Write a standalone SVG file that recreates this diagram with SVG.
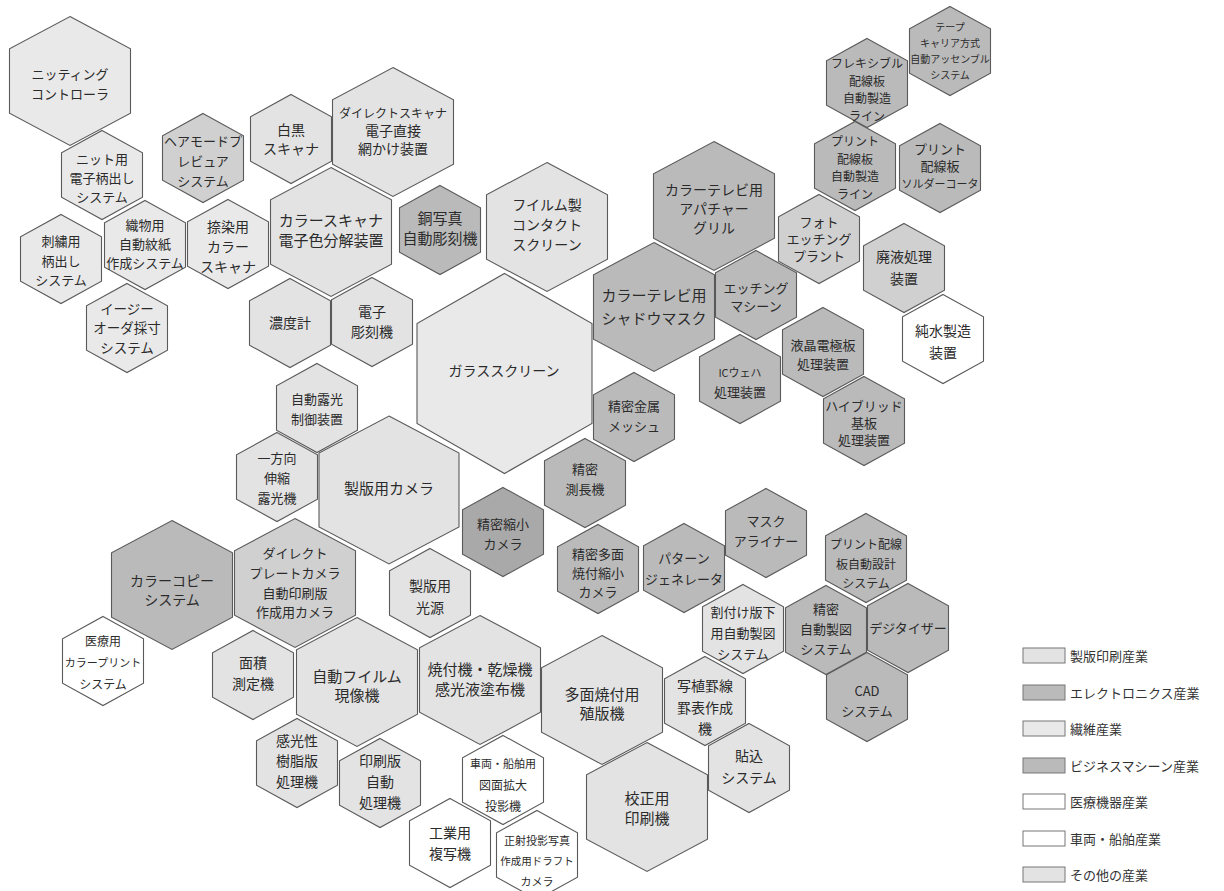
<svg xmlns="http://www.w3.org/2000/svg" width="1224" height="891" viewBox="0 0 1224 891">
<style>
.hex{stroke:#5a5a5a;stroke-width:1.1}
.p{fill:#e3e3e3}
.t{fill:#e9e9e9}
.m{fill:#d0d0d0}
.e{fill:#bababa}
.d{fill:#a9a9a9}
.w{fill:#ffffff}
text{font-family:"Noto Sans CJK JP","Noto Sans",sans-serif;fill:#2b2b2b;text-anchor:middle;dominant-baseline:central;font-size:13px}
.lg{text-anchor:start;font-size:13px;fill:#333}
.lr{stroke:#777;stroke-width:1}
</style>
<defs>
<path id="hS" d="M0,-44.5L40.5,-22.25L40.5,22.25L0,44.5L-40.5,22.25L-40.5,-22.25Z"/>
<path id="hM" d="M0,-64.5L60.5,-32.25L60.5,32.25L0,64.5L-60.5,32.25L-60.5,-32.25Z"/>
<path id="hL" d="M0,-74L70,-37L70,37L0,74L-70,37L-70,-37Z"/>
<path id="hX" d="M0,-100L87.5,-50L87.5,50L0,100L-87.5,50L-87.5,-50Z"/>
</defs>
<rect width="1224" height="891" fill="#ffffff"/>
<g id="connectors"></g>
<g id="nodes">
<g id="n01"><use href="#hM" x="70" y="81" class="hex t"/><text><tspan x="70" y="73">ニッティング</tspan><tspan x="70" y="93">コントローラ</tspan></text></g>
<g id="n02"><use href="#hS" x="102" y="175" class="hex t"/><text><tspan x="102" y="158">ニット用</tspan><tspan x="102" y="177">電子柄出し</tspan><tspan x="102" y="196">システム</tspan></text></g>
<g id="n03"><use href="#hS" x="203" y="158" class="hex m"/><text><tspan x="203" y="140">ヘアモードプ</tspan><tspan x="203" y="160">レビュア</tspan><tspan x="203" y="180">システム</tspan></text></g>
<g id="n04"><use href="#hS" x="291" y="139" class="hex p"/><text style="font-size:14px"><tspan x="291" y="129">白黒</tspan><tspan x="291" y="148">スキャナ</tspan></text></g>
<g id="n05"><use href="#hM" x="393" y="132" class="hex p"/><text style="font-size:14px"><tspan x="393" y="112" style="font-size:12px">ダイレクトスキャナ</tspan><tspan x="393" y="130">電子直接</tspan><tspan x="393" y="148">網かけ装置</tspan></text></g>
<g id="n06"><use href="#hS" x="145" y="245" class="hex t"/><text><tspan x="145" y="224">織物用</tspan><tspan x="145" y="243">自動紋紙</tspan><tspan x="145" y="262">作成システム</tspan></text></g>
<g id="n07"><use href="#hS" x="61" y="259" class="hex t"/><text><tspan x="61" y="240">刺繍用</tspan><tspan x="61" y="260">柄出し</tspan><tspan x="61" y="279">システム</tspan></text></g>
<g id="n08"><use href="#hS" x="228" y="244" class="hex t"/><text style="font-size:14px"><tspan x="228" y="226">捺染用</tspan><tspan x="228" y="246">カラー</tspan><tspan x="228" y="266">スキャナ</tspan></text></g>
<g id="n09"><use href="#hM" x="331" y="232" class="hex p"/><text style="font-size:15px"><tspan x="331" y="219">カラースキャナ</tspan><tspan x="331" y="239">電子色分解装置</tspan></text></g>
<g id="n10"><use href="#hS" x="127" y="328" class="hex t"/><text style="font-size:13.5px"><tspan x="127" y="308">イージー</tspan><tspan x="127" y="327">オーダ採寸</tspan><tspan x="127" y="347">システム</tspan></text></g>
<g id="n11"><use href="#hS" x="290" y="323" class="hex p"/><text style="font-size:14px"><tspan x="290" y="322">濃度計</tspan></text></g>
<g id="n12"><use href="#hS" x="372" y="322" class="hex p"/><text style="font-size:14px"><tspan x="372" y="311">電子</tspan><tspan x="372" y="331">彫刻機</tspan></text></g>
<g id="n13"><use href="#hS" x="440" y="230" class="hex e"/><text style="font-size:15px"><tspan x="440" y="217">銅写真</tspan><tspan x="440" y="237">自動彫刻機</tspan></text></g>
<g id="n14"><use href="#hM" x="547" y="227" class="hex p"/><text style="font-size:14px"><tspan x="547" y="204">フイルム製</tspan><tspan x="547" y="224">コンタクト</tspan><tspan x="547" y="244">スクリーン</tspan></text></g>
<g id="n15"><use href="#hM" x="714" y="206" class="hex e"/><text style="font-size:14px"><tspan x="714" y="189">カラーテレビ用</tspan><tspan x="714" y="208">アパチャー</tspan><tspan x="714" y="227">グリル</tspan></text></g>
<g id="n16"><use href="#hM" x="654" y="307" class="hex e"/><text style="font-size:15px"><tspan x="654" y="294">カラーテレビ用</tspan><tspan x="654" y="317">シャドウマスク</tspan></text></g>
<g id="n17"><use href="#hS" x="756" y="295" class="hex e"/><text><tspan x="756" y="287">エッチング</tspan><tspan x="756" y="305">マシーン</tspan></text></g>
<g id="n18"><use href="#hX" x="504.5" y="373.5" class="hex t"/><text style="font-size:14px"><tspan x="504" y="370">ガラススクリーン</tspan></text></g>
<g id="n19"><use href="#hS" x="950" y="51" class="hex e"/><text style="font-size:10px"><tspan x="950" y="26">テープ</tspan><tspan x="950" y="42">キャリア方式</tspan><tspan x="950" y="58">自動アッセンブル</tspan><tspan x="950" y="74">システム</tspan></text></g>
<g id="n20"><use href="#hS" x="867" y="83" class="hex e"/><text style="font-size:12px"><tspan x="867" y="62">フレキシブル</tspan><tspan x="867" y="79.5">配線板</tspan><tspan x="867" y="97">自動製造</tspan><tspan x="867" y="114.5">ライン</tspan></text></g>
<g id="n21"><use href="#hS" x="855" y="166" class="hex e"/><text style="font-size:12px"><tspan x="855" y="140">プリント</tspan><tspan x="855" y="157.5">配線板</tspan><tspan x="855" y="175">自動製造</tspan><tspan x="855" y="192.5">ライン</tspan></text></g>
<g id="n22"><use href="#hS" x="940" y="168" class="hex e"/><text><tspan x="940" y="148">プリント</tspan><tspan x="940" y="165">配線板</tspan><tspan x="940" y="183" style="font-size:11px">ソルダーコータ</tspan></text></g>
<g id="n23"><use href="#hS" x="819" y="239" class="hex m"/><text><tspan x="819" y="221">フォト</tspan><tspan x="819" y="238">エッチング</tspan><tspan x="819" y="255">プラント</tspan></text></g>
<g id="n24"><use href="#hS" x="904" y="268" class="hex m"/><text style="font-size:14px"><tspan x="904" y="256">廃液処理</tspan><tspan x="904" y="278">装置</tspan></text></g>
<g id="n25"><use href="#hS" x="943" y="339" class="hex w"/><text style="font-size:14px"><tspan x="943" y="330">純水製造</tspan><tspan x="943" y="352">装置</tspan></text></g>
<g id="n26"><use href="#hS" x="823" y="352" class="hex e"/><text><tspan x="823" y="344">液晶電極板</tspan><tspan x="823" y="363">処理装置</tspan></text></g>
<g id="n27"><use href="#hS" x="740" y="379" class="hex e"/><text><tspan x="740" y="372" style="font-size:11px">ICウェハ</tspan><tspan x="740" y="391">処理装置</tspan></text></g>
<g id="n28"><use href="#hS" x="864" y="421" class="hex e"/><text><tspan x="864" y="405">ハイブリッド</tspan><tspan x="864" y="422">基板</tspan><tspan x="864" y="439">処理装置</tspan></text></g>
<g id="n29"><use href="#hS" x="634" y="417" class="hex e"/><text><tspan x="634" y="405">精密金属</tspan><tspan x="634" y="425">メッシュ</tspan></text></g>
<g id="n30"><use href="#hS" x="585" y="483" class="hex e"/><text><tspan x="585" y="468">精密</tspan><tspan x="585" y="488">測長機</tspan></text></g>
<g id="n31"><use href="#hS" x="503" y="532" class="hex d"/><text><tspan x="503" y="523">精密縮小</tspan><tspan x="503" y="543">カメラ</tspan></text></g>
<g id="n32"><use href="#hS" x="598" y="569" class="hex e"/><text><tspan x="598" y="553">精密多面</tspan><tspan x="598" y="572">焼付縮小</tspan><tspan x="598" y="591">カメラ</tspan></text></g>
<g id="n33"><use href="#hS" x="684" y="568" class="hex e"/><text><tspan x="684" y="557">パターン</tspan><tspan x="684" y="578">ジェネレータ</tspan></text></g>
<g id="n34"><use href="#hS" x="766" y="533" class="hex e"/><text><tspan x="766" y="520">マスク</tspan><tspan x="766" y="540">アライナー</tspan></text></g>
<g id="n35"><use href="#hS" x="866" y="558" class="hex e"/><text style="font-size:12px"><tspan x="866" y="543">プリント配線</tspan><tspan x="866" y="563">板自動設計</tspan><tspan x="866" y="582">システム</tspan></text></g>
<g id="n36"><use href="#hS" x="743" y="629" class="hex p"/><text><tspan x="743" y="611">割付け版下</tspan><tspan x="743" y="632">用自動製図</tspan><tspan x="743" y="653">システム</tspan></text></g>
<g id="n37"><use href="#hS" x="826" y="630" class="hex e"/><text><tspan x="826" y="608">精密</tspan><tspan x="826" y="628">自動製図</tspan><tspan x="826" y="648">システム</tspan></text></g>
<g id="n38"><use href="#hS" x="908" y="628" class="hex e"/><text><tspan x="908" y="627">デジタイザー</tspan></text></g>
<g id="n39"><use href="#hS" x="867" y="697" class="hex e"/><text><tspan x="867" y="690">CAD</tspan><tspan x="867" y="710">システム</tspan></text></g>
<g id="n40"><use href="#hS" x="705" y="701" class="hex p"/><text style="font-size:14px"><tspan x="705" y="685">写植罫線</tspan><tspan x="705" y="707">罫表作成</tspan><tspan x="705" y="728">機</tspan></text></g>
<g id="n41"><use href="#hS" x="749" y="768" class="hex p"/><text style="font-size:14px"><tspan x="749" y="755">貼込</tspan><tspan x="749" y="777">システム</tspan></text></g>
<g id="n42"><use href="#hM" x="602" y="700" class="hex p"/><text style="font-size:15px"><tspan x="602" y="693">多面焼付用</tspan><tspan x="602" y="712">殖版機</tspan></text></g>
<g id="n43"><use href="#hM" x="647" y="807" class="hex p"/><text style="font-size:15px"><tspan x="647" y="797">校正用</tspan><tspan x="647" y="817">印刷機</tspan></text></g>
<g id="n44"><use href="#hM" x="480" y="680" class="hex p"/><text style="font-size:15px"><tspan x="480" y="668">焼付機・乾燥機</tspan><tspan x="480" y="688">感光液塗布機</tspan></text></g>
<g id="n45"><use href="#hS" x="503" y="780" class="hex w"/><text style="font-size:12px"><tspan x="503" y="763" style="font-size:11px">車両・船舶用</tspan><tspan x="503" y="784">図面拡大</tspan><tspan x="503" y="805">投影機</tspan></text></g>
<g id="n46"><use href="#hS" x="450" y="843" class="hex w"/><text style="font-size:14px"><tspan x="450" y="832">工業用</tspan><tspan x="450" y="853">複写機</tspan></text></g>
<g id="n47"><use href="#hS" x="537" y="855" class="hex w"/><text style="font-size:11px"><tspan x="537" y="840">正射投影写真</tspan><tspan x="537" y="860" style="font-size:10.5px">作成用ドラフト</tspan><tspan x="537" y="881">カメラ</tspan></text></g>
<g id="n48"><use href="#hS" x="317" y="408" class="hex p"/><text><tspan x="317" y="398">自動露光</tspan><tspan x="317" y="418">制御装置</tspan></text></g>
<g id="n49"><use href="#hS" x="277" y="477" class="hex p"/><text><tspan x="277" y="457">一方向</tspan><tspan x="277" y="477">伸縮</tspan><tspan x="277" y="497">露光機</tspan></text></g>
<g id="n50"><use href="#hL" x="389" y="490" class="hex p"/><text style="font-size:15px"><tspan x="389" y="487">製版用カメラ</tspan></text></g>
<g id="n51"><use href="#hS" x="430" y="593" class="hex p"/><text style="font-size:14px"><tspan x="430" y="585">製版用</tspan><tspan x="430" y="607">光源</tspan></text></g>
<g id="n52"><use href="#hM" x="295" y="583" class="hex m"/><text><tspan x="295" y="552">ダイレクト</tspan><tspan x="295" y="572">プレートカメラ</tspan><tspan x="295" y="592">自動印刷版</tspan><tspan x="295" y="611">作成用カメラ</tspan></text></g>
<g id="n53"><use href="#hM" x="172" y="585" class="hex e"/><text style="font-size:14px"><tspan x="172" y="580">カラーコピー</tspan><tspan x="172" y="599">システム</tspan></text></g>
<g id="n54"><use href="#hS" x="103" y="661" class="hex w"/><text style="font-size:12px"><tspan x="103" y="640">医療用</tspan><tspan x="103" y="662" style="font-size:11px">カラープリント</tspan><tspan x="103" y="683">システム</tspan></text></g>
<g id="n55"><use href="#hS" x="253" y="675" class="hex p"/><text style="font-size:14px"><tspan x="253" y="662">面積</tspan><tspan x="253" y="683">測定機</tspan></text></g>
<g id="n56"><use href="#hM" x="357" y="682" class="hex p"/><text style="font-size:15px"><tspan x="357" y="675">自動フイルム</tspan><tspan x="357" y="694">現像機</tspan></text></g>
<g id="n57"><use href="#hS" x="297" y="763" class="hex p"/><text style="font-size:14px"><tspan x="297" y="740">感光性</tspan><tspan x="297" y="760">樹脂版</tspan><tspan x="297" y="781">処理機</tspan></text></g>
<g id="n58"><use href="#hS" x="380" y="783" class="hex p"/><text style="font-size:14px"><tspan x="380" y="760">印刷版</tspan><tspan x="380" y="781">自動</tspan><tspan x="380" y="802">処理機</tspan></text></g>
</g>
<g id="legend">
<rect x="1023" y="648" width="42" height="15" class="lr p"/><text class="lg" x="1070" y="655">製版印刷産業</text>
<rect x="1023" y="685" width="42" height="15" class="lr e"/><text class="lg" x="1070" y="692">エレクトロニクス産業</text>
<rect x="1023" y="721" width="42" height="15" class="lr t"/><text class="lg" x="1070" y="728">繊維産業</text>
<rect x="1023" y="758" width="42" height="15" class="lr e"/><text class="lg" x="1070" y="765">ビジネスマシーン産業</text>
<rect x="1023" y="794" width="42" height="15" class="lr w"/><text class="lg" x="1070" y="801">医療機器産業</text>
<rect x="1023" y="831" width="42" height="15" class="lr w"/><text class="lg" x="1070" y="838">車両・船舶産業</text>
<rect x="1023" y="867" width="42" height="15" class="lr p"/><text class="lg" x="1070" y="874">その他の産業</text>
</g>
</svg>
